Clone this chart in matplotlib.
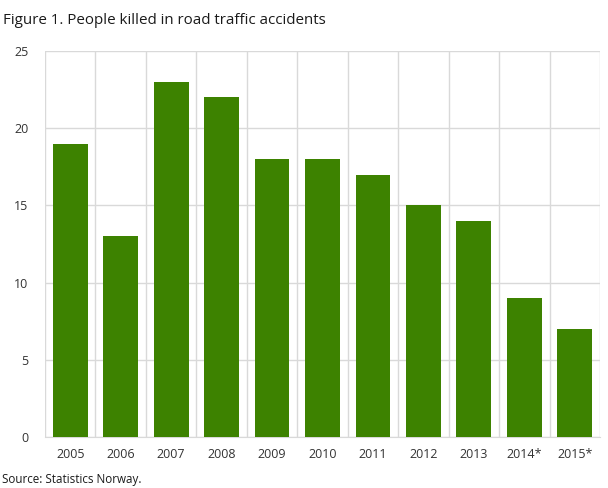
import matplotlib
matplotlib.use("Agg")
import matplotlib.pyplot as plt
from matplotlib.ticker import MultipleLocator, FixedLocator

categories = ["2005", "2006", "2007", "2008", "2009", "2010", "2011", "2012", "2013", "2014*", "2015*"]
values = [19, 13, 23, 22, 18, 18, 17, 15, 14, 9, 7]

plt.rcParams['font.family'] = ['Open Sans', 'DejaVu Sans']

fig = plt.figure(figsize=(6.08, 4.88), dpi=100)
ax = fig.add_axes([0.074, 0.1045, 0.9128, 0.791])

x = list(range(len(categories)))
ax.bar(x, values, width=0.69, color="#3d8200", zorder=3)

ax.set_xlim(-0.5, len(categories) - 0.5)
ax.set_ylim(0, 25)
ax.yaxis.set_major_locator(MultipleLocator(5))
ax.set_xticks(x)
ax.set_xticklabels(categories)
ax.xaxis.set_minor_locator(FixedLocator([i - 0.5 for i in range(len(categories) + 1)]))

ax.grid(axis="y", which="major", color="#d9d9d9", linewidth=1, zorder=0)
ax.grid(axis="x", which="minor", color="#d9d9d9", linewidth=1, zorder=0)
ax.grid(axis="x", which="major", visible=False)

for s in ["top", "right", "left"]:
    ax.spines[s].set_visible(False)
ax.spines["bottom"].set_color("#d9d9d9")

ax.tick_params(axis="both", which="both", length=0, labelsize=9, colors="#333333")
ax.tick_params(axis="x", pad=8)
ax.tick_params(axis="y", pad=12)

fig.text(0.005, 0.958, "Figure 1. People killed in road traffic accidents", fontsize=10.9, color="#1a1a1a", va="center", ha="left")
fig.text(0.003, 0.018, "Source: Statistics Norway.", fontsize=8.4, color="#1a1a1a", va="center", ha="left")

fig.savefig("out.png", dpi=100)
